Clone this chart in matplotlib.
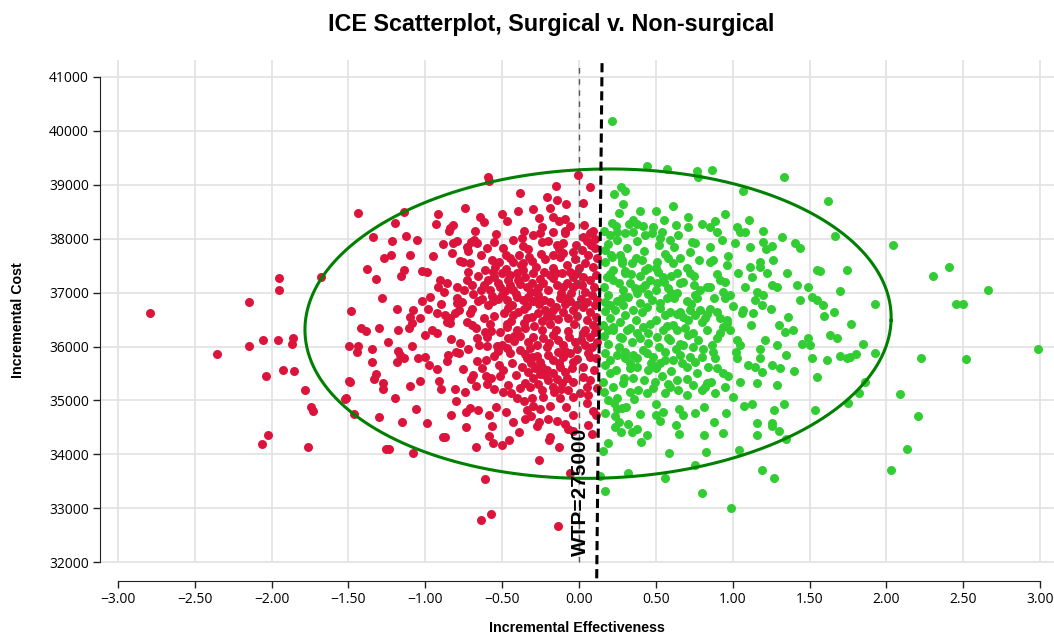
import matplotlib
matplotlib.use("Agg")
import matplotlib.pyplot as plt
import numpy as np

# ICE scatter values (incremental effect, incremental cost)
red_pts = [
    (-2.79, 36630), (-2.355, 35855), (-2.145, 36826), (-1.95, 37276), (-1.95, 37040),
    (-1.677, 37290), (-2.149, 36004), (-2.058, 36115), (-1.958, 36120), (-1.863, 36152),
    (-1.869, 36052), (-2.04, 35458), (-1.924, 35560), (-1.852, 35540), (-1.781, 35187),
    (-1.746, 34872), (-1.728, 34810), (-2.025, 34358), (-2.06, 34185), (-1.761, 34130),
    (-1.464, 34748), (-1.238, 34093), (-1.256, 34098), (-1.078, 34030), (-1.063, 34835),
    (-0.883, 34316), (-0.87, 34316), (-0.831, 34735), (-0.735, 34506), (-0.735, 34785),
    (-0.709, 34859), (-0.67, 34135), (-0.612, 33536), (-0.638, 32775), (-0.575, 32898),
    (-0.134, 32670), (-0.262, 33889), (-0.06, 33647), (-0.588, 34735), (-0.568, 34520),
    (-0.588, 34340), (-0.562, 34215), (-0.503, 34180), (-0.458, 34265), (-0.428, 34600),
    (-0.54, 34883), (-0.477, 34785), (-0.336, 34822), (-0.31, 34710), (-0.297, 34896),
    (-0.254, 34846), (-0.273, 34525), (-0.258, 34605), (-0.202, 34650), (-0.187, 34327),
    (-0.195, 34265), (-0.087, 34872), (-0.089, 34562), (-0.072, 34464), (-0.037, 34427),
    (-1.497, 35360), (-1.52, 35030), (0.089, 34810), (0.11, 34735), (0.085, 34382),
    (0.072, 38959), (0.024, 38662),
    (-1.436, 38470), (-1.137, 38495), (-0.594, 39150), (-0.588, 39076), (-0.386, 38848),
    (-0.15, 38985), (-0.21, 38781), (-0.143, 38718), (-0.187, 38564), (-0.087, 38644),
    (-0.008, 39176), (-0.302, 38545), (-0.501, 38453), (-0.47, 38323), (-0.644, 38397),
    (-0.618, 38304), (-0.744, 38564), (-0.92, 38464), (-0.818, 38254), (-0.839, 38193),
    (-0.167, 38397), (-0.13, 38328), (-0.089, 38360), (-0.243, 38212), (-0.091, 38150),
    (-1.338, 38037), (-1.219, 37957), (-1.128, 38050), (-1.056, 37975), (-1.225, 37697),
    (-1.323, 37252), (-1.158, 37308), (-1.139, 37419), (-1.019, 37407), (-1.486, 36658),
    (-1.182, 36695), (-1.386, 36287), (-1.301, 36337), (-1.494, 36017), (-1.436, 36017),
    (-1.447, 35891), (-1.349, 35706), (-1.321, 35483), (-1.332, 35397), (-1.273, 35329),
    (-1.277, 35205), (-1.49, 35335), (-1.518, 35038), (-1.175, 35922), (-1.165, 35842),
    (-1.186, 35718), (-1.136, 35780), (-1.084, 36015), (-1.05, 35793), (-1.002, 35811),
    (-0.974, 35657), (-0.926, 35582), (-1.099, 35267), (-1.034, 35366), (-0.913, 35360),
    (-0.844, 38142), (-0.883, 37901), (-0.828, 37740), (-0.817, 37914), (-0.791, 37963),
    (-0.731, 37852), (-0.705, 37932), (-0.683, 37975), (-0.666, 37914), (-0.774, 37592),
    (-0.752, 37561), (-0.709, 37543), (-0.724, 37376), (-0.731, 37233), (-0.698, 37141),
    (-0.904, 37233), (-0.915, 37110), (-0.861, 37184), (-0.796, 37097), (-0.748, 37048),
    (-0.64, 37048), (-1.024, 36844), (-1.078, 36677), (-1.1, 36541), (-1.089, 36429),
    (-1.104, 36337), (-1.034, 36522), (-0.98, 36689), (-0.926, 36615), (-0.898, 36782),
    (-0.872, 36584), (-0.839, 36522), (-0.861, 36461), (-0.839, 36430), (-0.807, 36615),
    (-0.779, 36677), (-0.958, 36306), (-0.926, 36244), (-0.791, 36893), (-0.763, 36831),
    (-0.796, 36800), (-0.696, 36695), (-0.655, 36844), (-0.618, 36522), (-0.726, 36461),
    (-0.698, 36399), (-0.67, 36337), (-0.835, 36133), (-0.774, 36059), (-0.85, 35842),
    (-0.8, 35904), (-0.779, 35885), (-0.666, 36151), (-0.609, 36275), (-0.6, 36182),
    (-0.6, 36017), (-0.757, 35576), (-0.666, 35737), (-0.605, 35749), (-0.692, 35471),
    (-0.607, 35459), (-0.67, 35267), (-0.6, 35304), (-0.553, 35205), (-0.807, 35205),
    (-0.568, 36937), (-0.525, 36875), (-0.59, 36770), (-0.557, 36850), (-0.594, 37233),
    (-0.568, 37604), (-0.544, 37481), (-0.557, 37388), (-0.553, 37295), (-0.525, 37172),
    (-0.492, 37821), (-0.475, 37697), (-0.427, 37975), (-0.373, 38006), (-0.366, 37864),
    (-0.301, 38068), (-0.254, 38111), (-0.243, 37945), (-0.167, 38130), (-0.145, 37883),
    (-0.106, 37914), (-0.091, 38111), (-0.427, 37574), (-0.366, 37543), (-0.323, 37666),
    (-0.308, 37592), (-0.219, 37617), (-0.167, 37697), (-0.123, 37654), (-0.102, 37728),
    (-0.037, 37759), (-0.026, 37617), (-0.503, 37370), (-0.475, 37431), (-0.449, 37326),
    (-0.405, 37370), (-0.366, 37419), (-0.351, 37295), (-0.297, 37357), (-0.254, 37246),
    (-0.188, 37326), (-0.149, 37357), (-0.113, 37370), (-0.058, 37388), (-0.037, 37295),
    (-0.011, 37357), (-0.514, 37110), (-0.481, 37036), (-0.449, 37141), (-0.427, 37048),
    (-0.384, 37159), (-0.34, 37097), (-0.308, 37184), (-0.264, 37079), (-0.232, 37172),
    (-0.199, 37048), (-0.145, 37141), (-0.106, 37097), (-0.08, 37172), (-0.037, 37110),
    (-0.011, 37159), (-0.47, 36862), (-0.438, 36770), (-0.405, 36924), (-0.362, 36862),
    (-0.329, 36924), (-0.297, 36850), (-0.258, 36788), (-0.228, 36862), (-0.188, 36831),
    (-0.149, 36739), (-0.123, 36893), (-0.091, 36788), (-0.058, 36850), (-0.019, 36770),
    (-0.46, 36708), (-0.427, 36584), (-0.394, 36646), (-0.358, 36689), (-0.34, 36522),
    (-0.308, 36553), (-0.264, 36615), (-0.243, 36479), (-0.21, 36566), (-0.167, 36677),
    (-0.134, 36504), (-0.102, 36646), (-0.069, 36522), (-0.037, 36677), (-0.011, 36566),
    (-0.514, 36275), (-0.47, 36368), (-0.46, 36151), (-0.405, 36306), (-0.384, 36195),
    (-0.351, 36337), (-0.329, 36089), (-0.297, 36182), (-0.275, 36028), (-0.232, 36151),
    (-0.193, 36071), (-0.167, 36213), (-0.134, 36120), (-0.102, 36028), (-0.063, 36182),
    (-0.026, 36089), (-0.536, 36017), (-0.503, 36028), (-0.47, 35966), (-0.384, 35935),
    (-0.351, 35861), (-0.319, 35966), (-0.34, 35780), (-0.308, 35811), (-0.275, 35824),
    (-0.254, 35718), (-0.199, 35842), (-0.167, 35749), (-0.134, 35904), (-0.102, 35811),
    (-0.058, 35873), (-0.015, 35762), (-0.438, 35687), (-0.373, 35626), (-0.329, 35533),
    (-0.286, 35595), (-0.254, 35490), (-0.21, 35564), (-0.167, 35502), (-0.123, 35626),
    (-0.091, 35533), (-0.048, 35595), (-0.492, 35564), (-0.514, 35452), (-0.46, 35286),
    (-0.497, 35162), (-0.384, 35224), (-0.319, 35255), (-0.243, 35193), (-0.199, 35378),
    (-0.167, 35255), (-0.113, 35317), (-0.069, 35193), (-0.037, 35347), (-0.405, 35038),
    (-0.308, 35038), (-0.232, 35069), (-0.123, 35038), (-0.037, 35069),
    (0.028, 38037), (0.072, 38099), (0.104, 37997), (0.017, 37790), (0.061, 37697),
    (0.104, 37821), (0.039, 37543), (0.093, 37481), (0.028, 37295), (0.072, 37233),
    (0.111, 37326), (0.039, 37017), (0.082, 36955), (0.115, 36862), (0.028, 36739),
    (0.072, 36646), (0.104, 36770), (0.05, 36491), (0.093, 36399), (0.126, 36368),
    (0.028, 36244), (0.072, 36182), (0.104, 36275), (0.039, 36028), (0.082, 35997),
    (0.072, 35811), (0.028, 35626), (0.028, 35440), (0.05, 35255), (0.115, 35224),
    (0.007, 35131), (0.061, 35100),
]

# extra points estimated in the dense red core, where single dots overlap
red_core = [
    (-0.72, 37780), (-0.64, 37690), (-0.61, 37420), (-0.66, 37300), (-0.62, 37150),
    (-0.69, 36980), (-0.58, 37050), (-0.63, 36890), (-0.71, 36620), (-0.55, 36560),
    (-0.58, 36410), (-0.65, 36020), (-0.72, 35950), (-0.55, 35820), (-0.63, 35600),
    (-0.7, 35390), (-0.52, 35650), (-0.45, 35880), (-0.42, 36100), (-0.44, 36480),
    (-0.49, 36620), (-0.41, 36980), (-0.46, 37240), (-0.39, 37700), (-0.33, 37800),
    (-0.28, 37470), (-0.23, 37380), (-0.31, 37010), (-0.27, 36950), (-0.22, 36680),
    (-0.29, 36380), (-0.24, 36300), (-0.19, 36420), (-0.15, 36310), (-0.21, 35990),
    (-0.13, 35700), (-0.24, 35620), (-0.3, 35410), (-0.35, 35330), (-0.27, 35300),
    (-0.16, 35150), (-0.08, 35420), (-0.04, 35720), (-0.01, 35950), (-0.07, 36280),
    (-0.03, 36410), (0.01, 36880), (-0.05, 36990), (-0.12, 37000), (-0.17, 37450),
    (-0.08, 37510), (-0.02, 37880), (0.05, 37960), (-0.13, 37800), (-0.2, 37960),
    (-0.06, 38230), (0.03, 38250), (0.09, 38150), (-0.36, 38150), (-0.54, 38080),
    (-0.6, 37830), (-0.52, 37560), (-0.38, 37520), (-0.34, 36760), (-0.47, 36420),
    (-0.36, 36440), (-0.31, 35700), (-0.41, 35480), (-0.57, 35420), (-0.44, 35130),
    (-0.36, 34980), (-0.19, 34900), (-0.12, 35210), (0.07, 35370), (0.1, 35560),
    (0.06, 35880), (0.12, 36080), (0.01, 36120), (0.11, 36550), (0.05, 36830),
    (0.1, 37110), (0.02, 37150), (0.12, 37650), (0.08, 37890), (-0.26, 38380),
    (-0.4, 38520), (-0.68, 38150), (-0.95, 37680), (-0.99, 37380), (-0.88, 37020),
    (-0.97, 36920), (-1.18, 36300), (-1.24, 36080), (-1.0, 36220), (-0.86, 35730),
    (-0.9, 35220), (-1.2, 35050), (-0.74, 35150), (-0.8, 34980), (-0.66, 34830),
    (-0.35, 34650), (-0.14, 34610), (-0.04, 34730), (0.05, 34950), (0.06, 34550),
    (-0.13, 34140), (-0.39, 34420), (-0.99, 34580), (-1.15, 34600), (-1.3, 34700),
    (-1.35, 35950), (-1.42, 36350), (-1.28, 36900), (-1.38, 37430), (-1.27, 37650),
    (-1.1, 37700), (-0.93, 38280), (-1.2, 38300), (-0.25, 37720), (-0.55, 37930),
    (-0.45, 37650), (-0.5, 36950), (-0.57, 36280), (-0.42, 36200), (-0.53, 35920),
    (-0.22, 35480), (-0.14, 35400), (-0.09, 35920), (-0.18, 36560), (-0.26, 36820),
    (-0.08, 36900), (-0.17, 37270), (-0.4, 37240), (0.0, 37460), (0.04, 36300),
    (0.11, 35790),
]

green_pts = [
    (0.137, 33597), (0.317, 33647), (0.56, 33555), (0.167, 33319), (0.798, 33276),
    (0.987, 33010), (0.752, 33807), (0.588, 34018), (0.824, 34048), (1.041, 34074),
    (1.19, 33716), (1.271, 33566), (0.158, 34067), (0.187, 34205), (0.403, 34235),
    (0.44, 34358), (0.343, 34408), (0.375, 34469), (0.317, 34562), (0.273, 34414),
    (0.234, 34513), (0.26, 34605), (0.169, 34760), (0.234, 34710), (0.245, 34835),
    (0.282, 34853), (0.304, 34872), (0.501, 34933), (0.501, 34730), (0.527, 34624),
    (0.549, 34780), (0.651, 34372), (0.649, 34840), (0.677, 34724), (0.752, 34772),
    (0.813, 34883), (0.815, 34352), (0.937, 34395), (0.956, 34772), (1.072, 34890),
    (1.124, 34933), (1.161, 34588), (1.158, 34364), (1.258, 34575), (1.254, 34525),
    (1.271, 34822), (1.303, 34438), (1.334, 34927), (1.345, 34278), (1.535, 34822),
    (2.203, 34710), (2.132, 34104), (2.028, 33709), (1.75, 34957),
    (1.666, 38056), (2.041, 37878), (1.746, 37419), (2.305, 37302), (2.41, 37469),
    (2.661, 37053), (2.455, 36788), (2.5, 36788), (1.928, 36783), (1.7, 37035),
    (1.568, 37400), (1.585, 36765), (1.596, 36572), (1.661, 36634), (1.77, 36424),
    (1.633, 36209), (1.677, 36152), (1.85, 36052), (1.615, 35755), (1.698, 35830),
    (1.742, 35794), (1.763, 35805), (1.802, 35855), (1.928, 35873), (2.225, 35780),
    (2.518, 35768), (2.988, 35948), (1.861, 35336), (1.822, 35143), (2.089, 35119),
    (0.213, 40184), (0.44, 39349), (0.573, 39299), (0.766, 39256), (0.776, 39150),
    (0.863, 39275), (1.334, 39139), (1.065, 38885), (0.273, 38954), (0.299, 38880),
    (0.226, 38830), (0.288, 38644), (0.262, 38483), (0.399, 38520), (0.503, 38514),
    (0.612, 38601), (0.707, 38403), (1.106, 38341), (0.885, 38328), (0.802, 38273),
    (0.631, 38260), (0.217, 38297), (0.239, 38241), (0.323, 38278), (0.38, 38278),
    (0.414, 38241), (0.479, 38223), (0.71, 38220), (0.85, 38220), (1.026, 38212),
    (1.618, 38700),
    (0.202, 38068), (0.245, 38130), (0.299, 38099), (0.354, 38130), (0.43, 38068),
    (0.473, 38099), (0.527, 38006), (0.538, 38130), (0.592, 37975), (0.646, 38068),
    (0.733, 37945), (0.755, 37914), (0.896, 38130), (0.928, 37975), (1.015, 37914),
    (1.048, 38130), (1.08, 38130), (1.113, 37852), (1.195, 37945), (1.254, 37864),
    (1.319, 38037), (1.406, 37914), (1.438, 37821),
    (0.169, 37790), (0.213, 37666), (0.267, 37697), (0.278, 37543), (0.223, 37419),
    (0.343, 37543), (0.408, 37604), (0.43, 37419), (0.505, 37573), (0.516, 37388),
    (0.581, 37635), (0.614, 37543), (0.636, 37357), (0.701, 37450), (0.722, 37357),
    (0.852, 37574), (0.874, 37604), (0.972, 37679), (0.961, 37512), (1.037, 37357),
    (1.113, 37481), (1.124, 37295), (1.178, 37574), (1.178, 37481), (1.265, 37604),
    (1.221, 37357), (1.351, 37357), (1.547, 37419),
    (0.18, 37295), (0.223, 37233), (0.299, 37357), (0.332, 37172), (0.364, 37079),
    (0.289, 37048), (0.408, 37079), (0.462, 37233), (0.505, 37172), (0.549, 37295),
    (0.581, 37079), (0.636, 36986), (0.657, 37172), (0.755, 36955), (0.766, 36893),
    (0.831, 37110), (0.852, 37110), (0.918, 37233), (0.939, 37017), (0.983, 36955),
    (1.156, 37017), (1.2, 36955), (1.254, 37141), (1.286, 37110), (1.492, 37110),
    (1.514, 36924), (1.547, 36862),
    (0.169, 36831), (0.202, 36770), (0.234, 36677), (0.278, 36893), (0.289, 36770),
    (0.354, 36677), (0.408, 36646), (0.44, 36739), (0.473, 36862), (0.527, 36800),
    (0.57, 36893), (0.592, 36646), (0.56, 36584), (0.657, 36646), (0.679, 36553),
    (0.722, 36677), (0.755, 36584), (0.787, 36677), (0.82, 36522), (0.896, 36646),
    (0.918, 36522), (0.961, 36491), (1.059, 36615), (1.069, 36677), (1.145, 36862),
    (1.189, 36770), (1.134, 36615), (1.362, 36553), (1.438, 36862),
    (0.158, 36399), (0.191, 36306), (0.223, 36368), (0.267, 36182), (0.31, 36306),
    (0.343, 36089), (0.375, 36244), (0.419, 36368), (0.451, 36059), (0.505, 36182),
    (0.549, 36306), (0.592, 36120), (0.636, 36306), (0.679, 36028), (0.711, 36213),
    (0.744, 35997), (0.777, 36120), (0.831, 36306), (0.864, 36028), (0.896, 36151),
    (0.939, 36368), (0.961, 36430), (1.026, 36120), (1.048, 36028), (1.211, 36120),
    (1.286, 36028), (1.34, 36275), (1.395, 36306), (1.492, 36151), (1.503, 36028),
    (0.169, 35873), (0.202, 35749), (0.245, 35842), (0.299, 35904), (0.332, 35687),
    (0.375, 35780), (0.419, 35935), (0.451, 35564), (0.484, 35811), (0.527, 35687),
    (0.56, 35904), (0.614, 35749), (0.657, 35842), (0.701, 35626), (0.755, 35718),
    (0.798, 35811), (0.842, 35626), (0.885, 35780), (0.939, 35502), (1.026, 35780),
    (1.102, 35657), (1.145, 35626), (1.178, 35780), (1.189, 35533), (1.254, 35657),
    (1.308, 35595), (1.514, 35780), (1.547, 35440),
    (0.158, 35347), (0.223, 35255), (0.289, 35317), (0.354, 35409), (0.386, 35193),
    (0.44, 35131), (0.495, 35347), (0.56, 35131), (0.592, 35255), (0.646, 35193),
    (0.701, 35100), (0.744, 35286), (0.798, 35193), (0.831, 35317), (0.885, 35131),
    (0.95, 35255), (1.004, 35069), (1.156, 35317), (1.286, 35286),
]

# extra points estimated in the dense green core
green_core = [
    (0.16, 38150), (0.19, 37900), (0.17, 37560), (0.2, 37350), (0.16, 37100),
    (0.19, 36950), (0.17, 36650), (0.2, 36520), (0.16, 36200), (0.19, 36050),
    (0.17, 35650), (0.2, 35500), (0.16, 35150), (0.19, 35000), (0.25, 37980),
    (0.31, 37820), (0.28, 37600), (0.34, 37340), (0.26, 37180), (0.32, 36920),
    (0.25, 36850), (0.3, 36580), (0.27, 36450), (0.33, 36350), (0.26, 36000),
    (0.3, 35780), (0.24, 35560), (0.29, 35420), (0.25, 35050), (0.33, 35150),
    (0.38, 37950), (0.42, 37780), (0.37, 37650), (0.45, 37450), (0.4, 37300),
    (0.38, 37000), (0.45, 36980), (0.4, 36800), (0.37, 36500), (0.46, 36420),
    (0.4, 36150), (0.44, 35880), (0.38, 35620), (0.42, 35380), (0.36, 35020),
    (0.48, 35230), (0.52, 37880), (0.56, 37720), (0.5, 37450), (0.55, 37200),
    (0.5, 37050), (0.53, 36720), (0.5, 36500), (0.57, 36380), (0.52, 36000),
    (0.56, 35750), (0.5, 35600), (0.54, 35450), (0.62, 37850), (0.66, 37650),
    (0.6, 37300), (0.68, 37200), (0.62, 36900), (0.7, 36850), (0.64, 36600),
    (0.61, 36400), (0.69, 36350), (0.63, 35950), (0.67, 35700), (0.6, 35550),
    (0.64, 35380), (0.72, 37750), (0.78, 37600), (0.75, 37300), (0.79, 37050),
    (0.73, 36780), (0.8, 36450), (0.74, 36250), (0.81, 35950), (0.72, 35800),
    (0.77, 35500), (0.82, 35250), (0.85, 37850), (0.9, 37350), (0.88, 36900),
    (0.85, 36700), (0.92, 36250), (0.87, 35900), (0.9, 35600), (0.86, 35350),
    (0.95, 37200), (1.0, 36750), (0.98, 36300), (1.02, 35900), (0.97, 35450),
    (1.08, 37100), (1.12, 36400), (1.05, 35350), (1.22, 37800), (1.25, 36700),
    (1.3, 36400), (1.18, 35950), (1.35, 35850), (1.42, 37150), (1.45, 36050),
    (1.4, 35550), (0.23, 34950), (0.4, 34750), (0.63, 34550), (0.88, 34600),
    (0.35, 38350), (0.55, 38350), (0.95, 38450), (1.2, 38150), (0.22, 36300),
    (0.28, 36150), (0.35, 35850), (0.47, 35700), (0.58, 36150), (0.71, 36500),
    (0.83, 36600), (0.95, 36900), (0.21, 37700), (0.3, 37400), (0.43, 37150),
    (0.6, 37000), (0.75, 37150), (0.66, 36050), (0.45, 36250), (0.33, 35600),
    (0.58, 35300), (0.7, 35400),
]

wtp = 275000
x_ticks = [-3.0, -2.5, -2.0, -1.5, -1.0, -0.5, 0.0, 0.5, 1.0, 1.5, 2.0, 2.5, 3.0]
y_ticks = [32000, 33000, 34000, 35000, 36000, 37000, 38000, 39000, 40000, 41000]

# ellipse: centre, half widths, small tilt terms
ell_cx, ell_cy = 0.124, 36424
ell_a, ell_b = 1.907, 2869
ell_kx, ell_ky = 0.034, 62

red = "#DC143C"
green = "#32CD32"

fig = plt.figure(figsize=(10.54, 6.35), dpi=100)
ax = fig.add_axes([100 / 1054, 1 - 581 / 635, 954 / 1054, 521 / 635])
x_lo, x_hi = -3.117, 3.091
y_lo, y_hi = 31650, 41315
ax.set_xlim(x_lo, x_hi)
ax.set_ylim(y_lo, y_hi)

# grid, drawn by hand so the vertical lines stop at 32000 like the original
ax.vlines(x_ticks, 32000, y_hi, color="#e2e2e2", lw=1.2, zorder=0)
ax.hlines(y_ticks, x_lo, x_hi, color="#e2e2e2", lw=1.2, zorder=0)

rx, ry = zip(*(red_pts + red_core))
gx, gy = zip(*(green_pts + green_core))
ax.scatter(rx, ry, s=42, color=red, linewidths=0, zorder=2)
ax.scatter(gx, gy, s=42, color=green, linewidths=0, zorder=2)

t = np.linspace(0, 2 * np.pi, 400)
ax.plot(ell_cx + ell_a * np.cos(t) + ell_kx * np.sin(t),
        ell_cy + ell_b * np.sin(t) + ell_ky * np.cos(t),
        color="#008000", lw=2.2, zorder=3)

# zero-effect line and willingness-to-pay line
ax.plot([0, 0], [32000, 41200], color="#555555", lw=1.0, ls=(0, (4, 4)), zorder=3)
wy = np.array([31700, 41300])
ax.plot(wy / wtp, wy, color="black", lw=2.2, ls=(0, (3, 1.6)), zorder=4)
ax.text(0.007, 33300, "WTP=275000", rotation=90, ha="center", va="center",
        fontsize=15, fontweight="bold", family="Liberation Sans", zorder=5)

for s in ["top", "right"]:
    ax.spines[s].set_visible(False)
ax.spines["left"].set_bounds(32000, 41000)
ax.spines["bottom"].set_bounds(-3, 3)
ax.spines["left"].set_color("#222222")
ax.spines["bottom"].set_color("#222222")
ax.set_xticks(x_ticks)
ax.set_yticks(y_ticks)
ax.set_xticklabels([f"{v:.2f}".replace("-", "\u2212") for v in x_ticks])
ax.set_yticklabels([str(v) for v in y_ticks])
ax.tick_params(length=5, width=1, color="#222222", labelsize=10, pad=3)
for lab in ax.get_xticklabels() + ax.get_yticklabels():
    lab.set_family("Open Sans")

fig.text(551 / 1054, 1 - 24 / 635, "ICE Scatterplot, Surgical v. Non-surgical",
         ha="center", va="center", fontsize=16.8, fontweight="bold", family="Liberation Sans")
fig.text(577 / 1054, 1 - 628 / 635, "Incremental Effectiveness", ha="center", va="center",
         fontsize=10.3, fontweight="bold", family="Liberation Sans")
fig.text(18 / 1054, 1 - 320 / 635, "Incremental Cost", ha="center", va="center",
         rotation=90, fontsize=10.3, fontweight="bold", family="Liberation Sans")

fig.savefig("out.png", dpi=100)
